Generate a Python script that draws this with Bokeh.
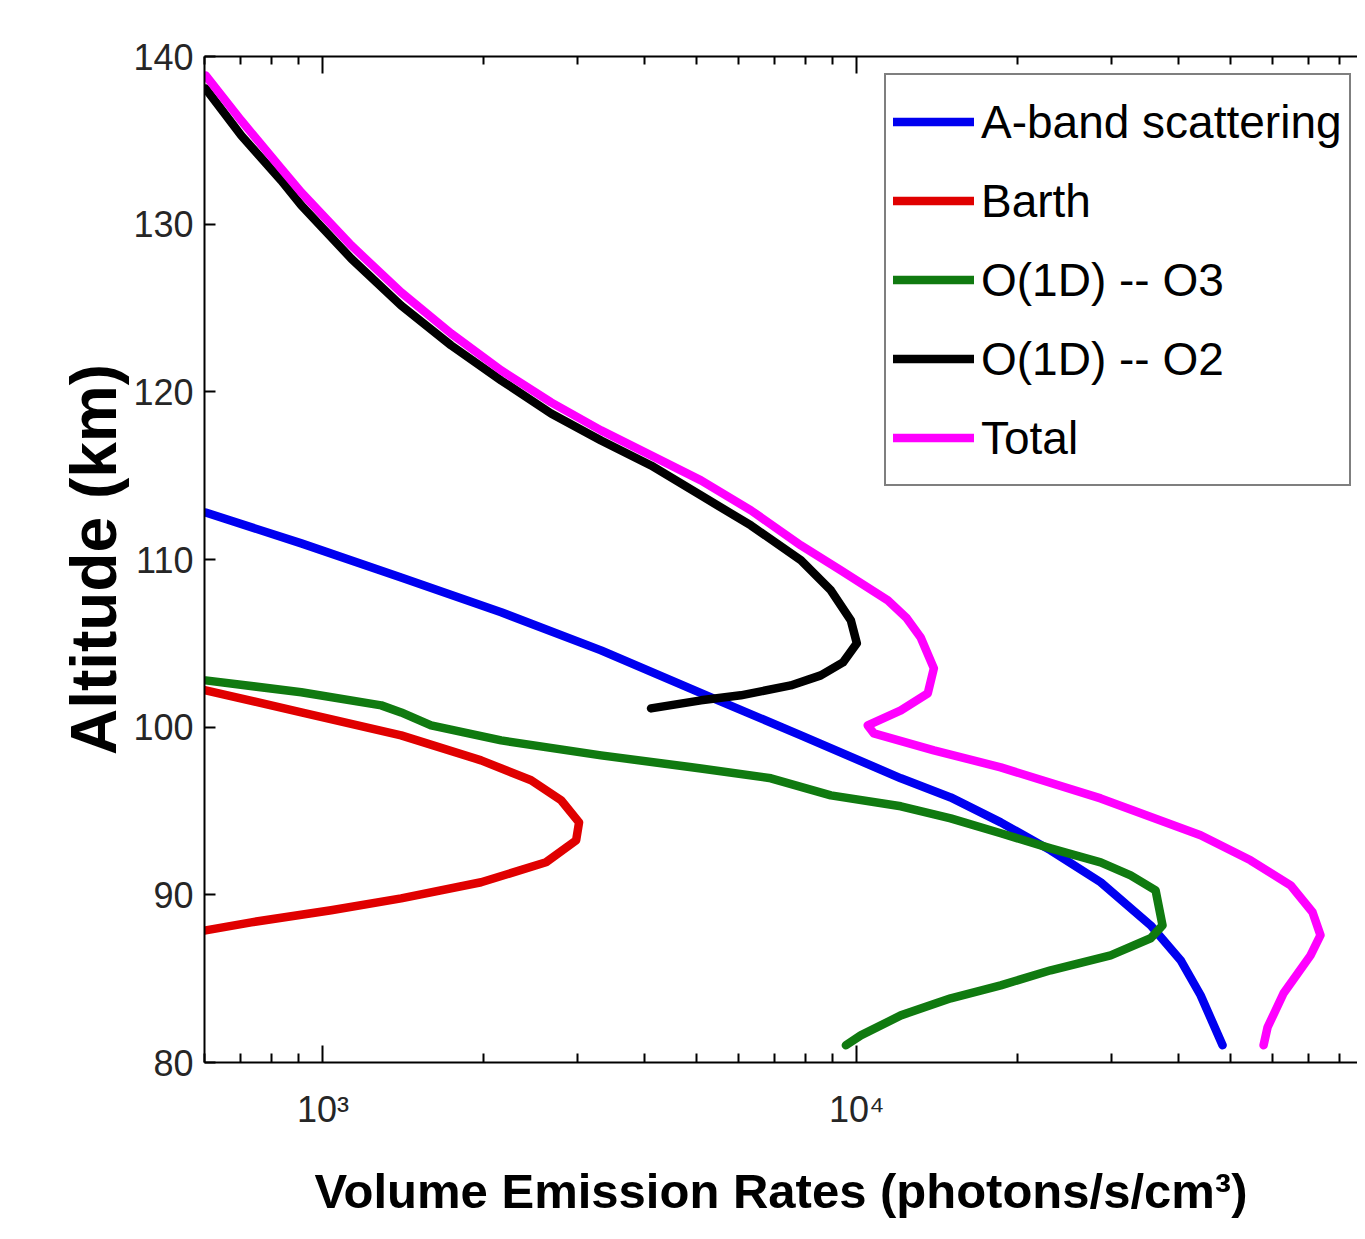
from bokeh.plotting import figure
from bokeh.models import FixedTicker, LogAxis, Legend, LegendItem
from bokeh.embed import file_html
from bokeh.resources import INLINE

# ---- data (altitude km, volume emission rate photons/s/cm^3) ----
aband_alt = [112.8, 110.96, 108.93, 106.85, 104.58, 101.78, 99.51, 96.95, 95.81, 94.32, 92.65, 90.75, 88.18, 86.1, 84.01, 81.03]
aband_ver = [603, 911, 1401, 2157, 3318, 5332, 7857, 12090, 14990, 18600, 23070, 28620, 35500, 40400, 44040, 48420]

barth_alt = [102.2, 100.88, 99.51, 98.02, 96.83, 95.64, 94.32, 93.25, 91.94, 90.75, 89.79, 89.08, 88.36, 87.88]
barth_ver = [603, 911, 1401, 1978, 2454, 2793, 3018, 2980, 2617, 1978, 1401, 1036, 734, 603]

o3_alt = [102.79, 102.08, 101.3, 100.88, 100.11, 99.21, 98.32, 97.54, 96.95, 95.93, 95.28, 94.56, 93.67, 92.77,
          91.94, 91.16, 90.27, 88.18, 87.41, 86.39, 85.5, 84.6, 83.83, 82.81, 81.62, 81.03]
o3_ver = [603, 911, 1286, 1401, 1594, 2157, 3318, 5105, 6903, 8939, 12090, 14990, 18600, 23070,
          28620, 32570, 36270, 37370, 35500, 29880, 23070, 18600, 14990, 12090, 10170, 9537]

o2_alt = [138.09, 135.29, 132.61, 131.12, 127.95, 125.15, 122.77, 120.68, 118.71, 117.1, 115.61, 113.82, 112.03,
          109.95, 108.16, 106.37, 105.0, 103.86, 103.09, 102.49, 101.9, 101.6, 101.12]
o2_ver = [603, 703, 835, 911, 1130, 1401, 1738, 2157, 2675, 3318, 4116, 5105, 6333,
          7857, 8939, 9745, 10000, 9419, 8560, 7520, 6063, 5105, 4116]

total_alt = [138.87, 136.18, 133.32, 131.89, 128.73, 125.93, 123.48, 121.28, 119.37, 117.7, 116.21, 114.72, 112.93,
             110.84, 109.35, 108.4, 107.56, 106.5, 105.35, 103.51, 102.02, 101.0, 100.11, 99.63, 98.62, 97.6, 95.75,
             93.55, 92.06, 90.57, 88.96, 87.59, 86.39, 84.13, 82.1, 81.03]
total_ver = [603, 703, 835, 911, 1130, 1401, 1738, 2157, 2675, 3318, 4116, 5105, 6333,
             7857, 9335, 10400, 11430, 12400, 13170, 13940, 13580, 12090, 10480, 10760, 13940, 18600, 28620,
             44040, 54620, 64920, 71380, 73860, 70760, 62990, 58790, 57780]

series_names = ["A-band scattering", "Barth", "O(1D) -- O3", "O(1D) -- O2", "Total"]
series_colors = ["#0000f0", "#e00000", "#107a10", "#000000", "#ff00ff"]

x_major = [1000, 10000]
x_minor = [600, 700, 800, 900, 2000, 3000, 4000, 5000, 6000, 7000, 8000, 9000,
           20000, 30000, 40000, 50000, 60000, 70000, 80000, 90000]
y_ticks = [80, 90, 100, 110, 120, 130, 140]
x_labels = {1000: "10³", 10000: "10⁴"}

SANS = "Liberation Sans"

p = figure(width=1357, height=1230, x_axis_type="log", x_range=(600, 86640), y_range=(80, 140),
           output_backend="svg", toolbar_location=None,
           min_border_left=204, min_border_right=0, min_border_top=56, min_border_bottom=168)
p.outline_line_color = None
p.grid.visible = False
p.background_fill_color = "white"
p.border_fill_color = "white"

xt = FixedTicker(ticks=x_major, minor_ticks=x_minor)
xa = p.xaxis[0]
xa.ticker = xt
xa.major_label_overrides = x_labels
xa.major_tick_in = 17
xa.major_tick_out = 0
xa.minor_tick_in = 9
xa.minor_tick_out = 0
xa.axis_line_width = 2
xa.major_tick_line_width = 2
xa.minor_tick_line_width = 2
xa.major_label_text_font = SANS
xa.major_label_text_font_size = "36px"
xa.major_label_text_color = "#262626"
xa.major_label_standoff = 26
xa.axis_label = "Volume Emission Rates (photons/s/cm³)"
xa.axis_label_text_font = SANS
xa.axis_label_text_font_style = "bold"
xa.axis_label_text_font_size = "49px"
xa.axis_label_text_color = "#000000"
xa.axis_label_standoff = 31

ya = p.yaxis[0]
ya.ticker = FixedTicker(ticks=y_ticks, minor_ticks=[])
ya.major_tick_in = 11
ya.major_tick_out = 0
ya.minor_tick_line_color = None
ya.axis_line_width = 2
ya.major_tick_line_width = 2
ya.major_label_text_font = SANS
ya.major_label_text_font_size = "36px"
ya.major_label_text_color = "#262626"
ya.major_label_standoff = 11
ya.axis_label = "Altitude (km)"
ya.axis_label_text_font = SANS
ya.axis_label_text_font_style = "bold"
ya.axis_label_text_font_size = "64px"
ya.axis_label_text_color = "#000000"
ya.axis_label_standoff = 0

top = LogAxis(ticker=xt, major_tick_in=17, major_tick_out=0, minor_tick_in=8, minor_tick_out=0,
              axis_line_width=2, major_tick_line_width=2, minor_tick_line_width=2,
              major_label_text_color=None, major_label_text_font_size="1px")
p.add_layout(top, "above")

data = [(aband_ver, aband_alt), (barth_ver, barth_alt), (o3_ver, o3_alt), (o2_ver, o2_alt), (total_ver, total_alt)]
items = []
for (xv, yv), name, col in zip(data, series_names, series_colors):
    r = p.line(xv, yv, line_color=col, line_width=8.5, line_join="round", line_cap="round")
    items.append(LegendItem(label=name, renderers=[r]))

leg = Legend(items=items, location=(680, 576), padding=7, spacing=0, margin=0,
             label_height=79, glyph_height=79, glyph_width=81, label_standoff=7,
             label_text_font=SANS, label_text_font_size="46px", label_text_color="#000000",
             border_line_color="#000000", border_line_width=2, background_fill_color="white",
             background_fill_alpha=1.0)
p.add_layout(leg, "center")

open("out.html", "w").write(file_html(p, INLINE))
